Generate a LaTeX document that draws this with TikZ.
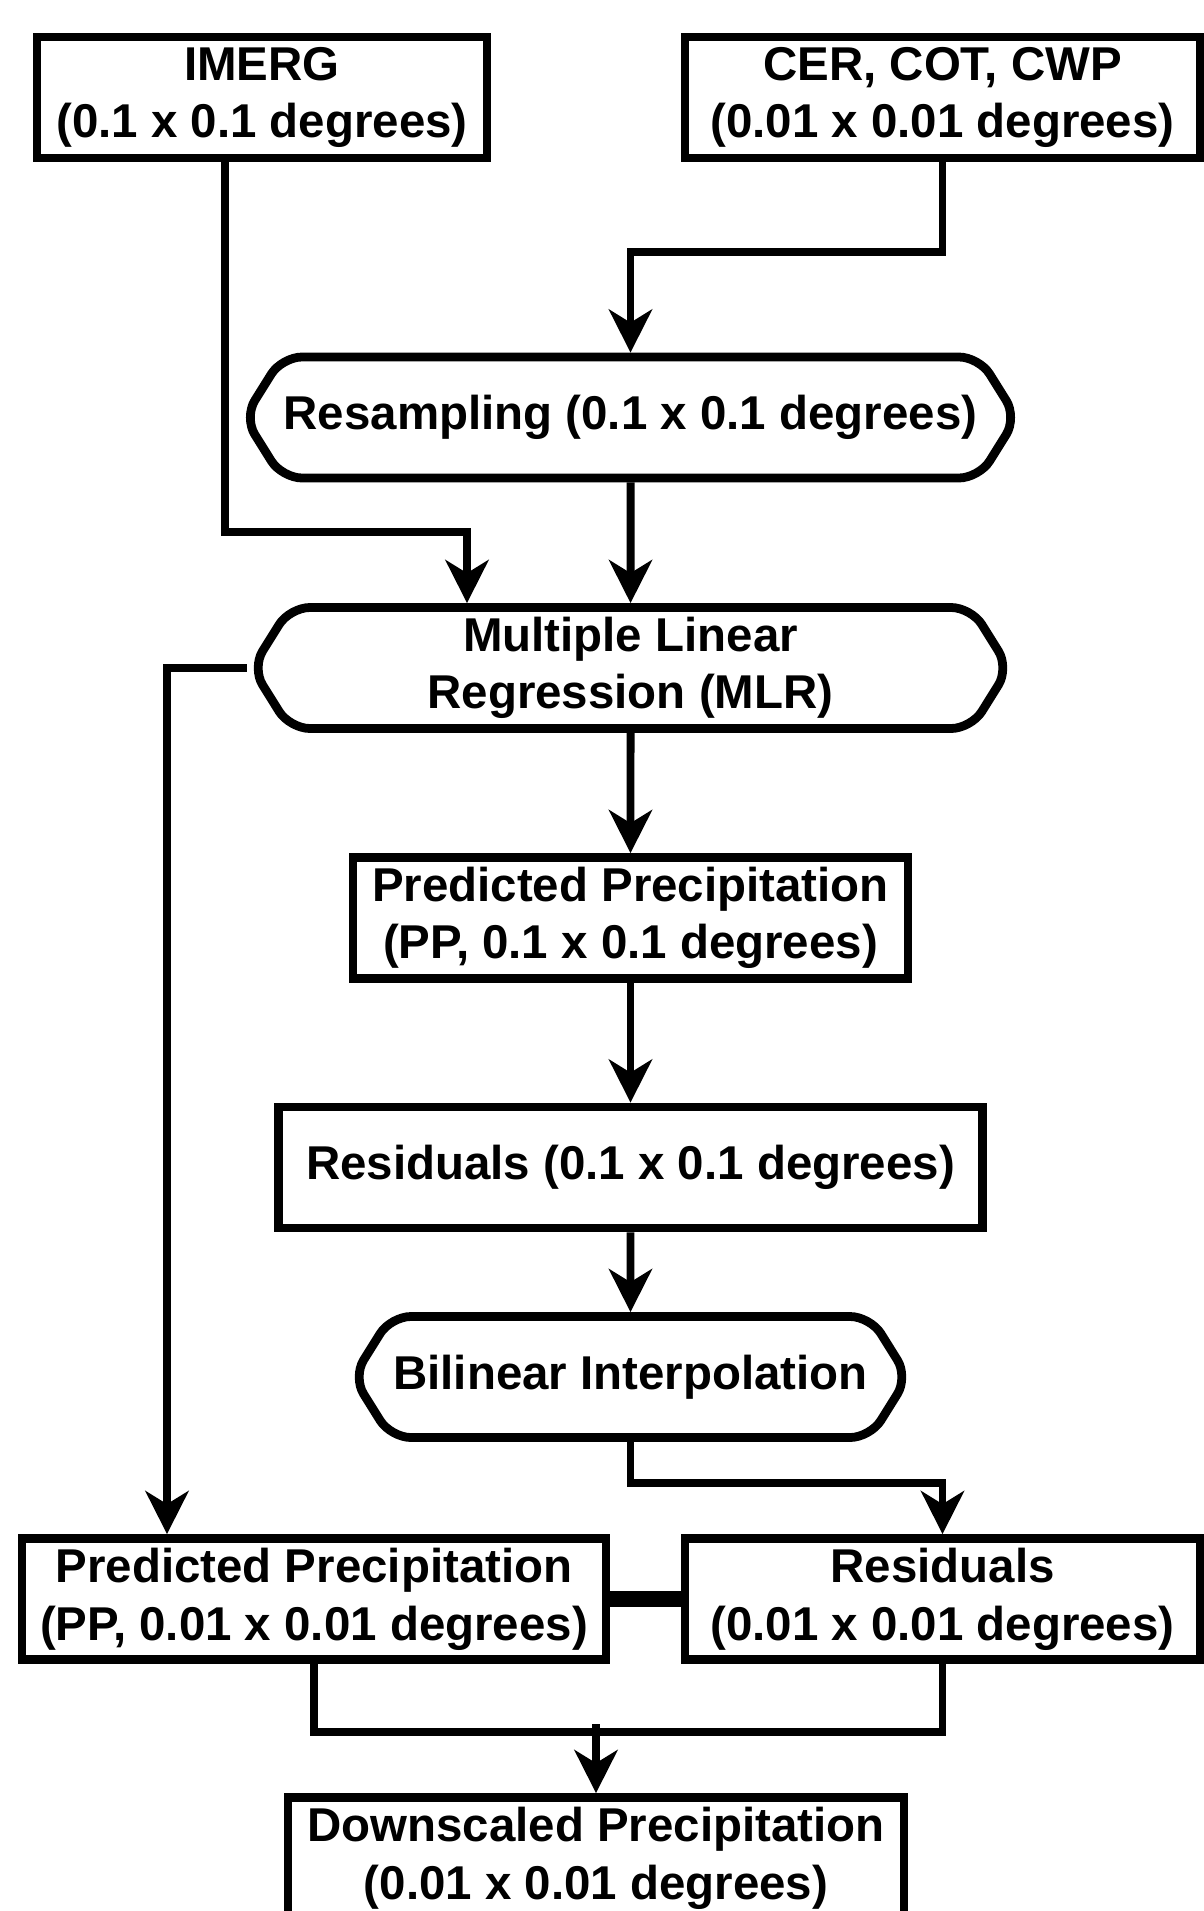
\documentclass[tikz,border=0pt]{standalone}
\usepackage{fontspec}
\setmainfont{Liberation Sans}
\usetikzlibrary{arrows.meta, shapes.symbols}

\begin{document}
\begin{tikzpicture}[
        box/.style={draw, line width=5pt, rectangle, align=center, minimum height=2.42cm, inner sep=1pt, font=\fontsize{27}{32.8}\selectfont\bfseries},
        hexbox/.style={box, shape=signal, signal to=west and east, signal pointer angle=116, rounded corners=0.4cm},
        conn/.style={line width=4.5pt, -{Stealth[length=0.86cm, width=0.86cm, inset=0.26cm]}},
        link/.style={line width=4.5pt}
    ]
    \useasboundingbox (0,0) rectangle (24.08,-38.22);

    \node[box, minimum width=9.0cm] (imerg) at (5.24,-1.95) {IMERG\\(0.1 x 0.1 degrees)};
    \node[box, minimum width=10.3cm] (cer) at (18.85,-1.95) {CER, COT, CWP\\(0.01 x 0.01 degrees)};
    \node[hexbox, minimum width=15.14cm] (resamp) at (12.61,-8.35) {Resampling (0.1 x 0.1 degrees)};
    \node[hexbox, minimum width=15.14cm] (mlr) at (12.61,-13.36) {Multiple Linear\\Regression (MLR)};
    \node[box, minimum width=11.1cm] (pp) at (12.61,-18.36) {Predicted Precipitation\\(PP, 0.1 x 0.1 degrees)};
    \node[box, minimum width=14.08cm] (res) at (12.61,-23.35) {Residuals (0.1 x 0.1 degrees)};
    \node[hexbox, minimum width=11.1cm] (bilin) at (12.61,-27.54) {Bilinear Interpolation};
    \node[box, minimum width=11.68cm] (ppfine) at (6.28,-31.98) {Predicted Precipitation\\(PP, 0.01 x 0.01 degrees)};
    \node[box, minimum width=10.3cm] (resfine) at (18.85,-31.98) {Residuals\\(0.01 x 0.01 degrees)};
    \node[box, minimum width=12.32cm] (down) at (11.92,-37.16) {Downscaled Precipitation\\(0.01 x 0.01 degrees)};

    % inputs
    \draw[conn] ([xshift=-0.74cm]imerg.south) |- ([xshift=-3.27cm, yshift=1.42cm]mlr.north) -- ([xshift=-3.27cm]mlr.north);
    \draw[conn] (cer.south) |- ([yshift=2.02cm]resamp.north) -- (resamp.north);

    % main column
    \foreach \from/\to in {resamp/mlr, mlr/pp, pp/res, res/bilin}
        \draw[conn] (\from) -- (\to);

    \draw[conn] (mlr.west) -| ([xshift=-2.94cm]ppfine.north);
    \draw[conn] (bilin.south) |- ([yshift=1.02cm]resfine.north) -- (resfine.north);

    % combine
    \draw[line width=9pt] (ppfine.east) -- (resfine.west);
    \draw[link] (ppfine.south) -- ++(0,-1.36) -| (resfine.south);
    \draw[conn] ([yshift=1.38cm]down.north) -- (down.north);
\end{tikzpicture}
\end{document}
